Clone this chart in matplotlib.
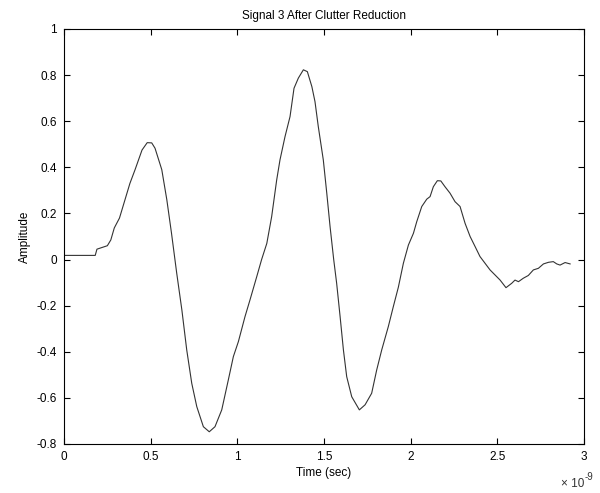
import numpy as np
import matplotlib
matplotlib.use("Agg")
import matplotlib.pyplot as plt
from matplotlib.ticker import FuncFormatter

t_ns = [0.0, 0.18, 0.19, 0.25, 0.27, 0.29, 0.32, 0.34, 0.38, 0.41, 0.45, 0.48,
        0.506, 0.525, 0.564, 0.593, 0.62, 0.65, 0.68, 0.708, 0.737, 0.766, 0.804,
        0.838, 0.871, 0.91, 0.948, 0.977, 1.006, 1.044, 1.073, 1.112, 1.14, 1.17,
        1.198, 1.227, 1.246, 1.275, 1.304, 1.327, 1.352, 1.381, 1.404, 1.43, 1.448,
        1.467, 1.496, 1.516, 1.535, 1.556, 1.573, 1.593, 1.612, 1.631, 1.66, 1.704,
        1.737, 1.775, 1.804, 1.833, 1.871, 1.9, 1.929, 1.958, 1.987, 2.016, 2.035,
        2.064, 2.093, 2.112, 2.131, 2.154, 2.174, 2.198, 2.227, 2.256, 2.285, 2.314,
        2.343, 2.372, 2.4, 2.429, 2.458, 2.487, 2.516, 2.55, 2.583, 2.602, 2.622,
        2.65, 2.679, 2.708, 2.737, 2.766, 2.795, 2.823, 2.843, 2.862, 2.891, 2.92]
amp = [0.018, 0.018, 0.045, 0.06, 0.085, 0.137, 0.18, 0.23, 0.33, 0.39, 0.475, 0.507,
       0.506, 0.483, 0.39, 0.26, 0.115, -0.058, -0.219, -0.392, -0.537, -0.638, -0.725,
       -0.747, -0.725, -0.652, -0.522, -0.421, -0.356, -0.248, -0.175, -0.074, 0.0, 0.07,
       0.186, 0.345, 0.432, 0.533, 0.62, 0.743, 0.787, 0.823, 0.815, 0.75, 0.685,
       0.577, 0.432, 0.288, 0.143, 0.0, -0.103, -0.248, -0.392, -0.508, -0.595, -0.652,
       -0.63, -0.58, -0.479, -0.392, -0.291, -0.204, -0.12, -0.016, 0.063, 0.114, 0.164,
       0.23, 0.262, 0.273, 0.316, 0.342, 0.341, 0.316, 0.288, 0.251, 0.23, 0.157,
       0.1, 0.056, 0.013, -0.016, -0.045, -0.067, -0.089, -0.122, -0.103, -0.089, -0.096,
       -0.081, -0.069, -0.045, -0.038, -0.019, -0.012, -0.009, -0.019, -0.024, -0.013, -0.019]

xticks_ns = [0, 0.5, 1, 1.5, 2, 2.5, 3]
yticks = [-0.8, -0.6, -0.4, -0.2, 0, 0.2, 0.4, 0.6, 0.8, 1]

plt.rcParams['font.family'] = ['Liberation Sans', 'DejaVu Sans']
plt.rcParams['font.size'] = 8.5

fig = plt.figure(figsize=(6, 4.93), dpi=100)
ax = fig.add_axes([0.1067, 0.0994, 0.8666, 0.8418])

t = np.array(t_ns) * 1e-9
ax.plot(t, amp, color='#333333', lw=0.8)

ax.set_xlim(0, 3e-9)
ax.set_ylim(-0.8, 1)
ax.set_xticks(np.array(xticks_ns) * 1e-9)
ax.xaxis.set_major_formatter(FuncFormatter(lambda v, p: f"{v * 1e9:g}"))
ax.set_yticks(yticks)
ax.yaxis.set_major_formatter(FuncFormatter(lambda v, p: f"{v:g}"))
ax.tick_params(direction='in', top=True, right=True, length=4, width=0.8, pad=5)
for s in ax.spines.values():
    s.set_linewidth(0.8)

ax.set_title('Signal 3 After Clutter Reduction', fontsize=8.5, pad=7)
ax.set_xlabel('Time (sec)', labelpad=3)
ax.set_ylabel('Amplitude', labelpad=4)
# MATLAB-style exponent label under the right end of the x axis
ax.text(1.0, -0.097, '\u00d7 10', transform=ax.transAxes,
        ha='right', va='center', fontsize=8.5, color='#333333')
ax.text(1.002, -0.08, '-9', transform=ax.transAxes,
        ha='left', va='center', fontsize=7, color='#333333')

fig.savefig('out.png', dpi=100)
